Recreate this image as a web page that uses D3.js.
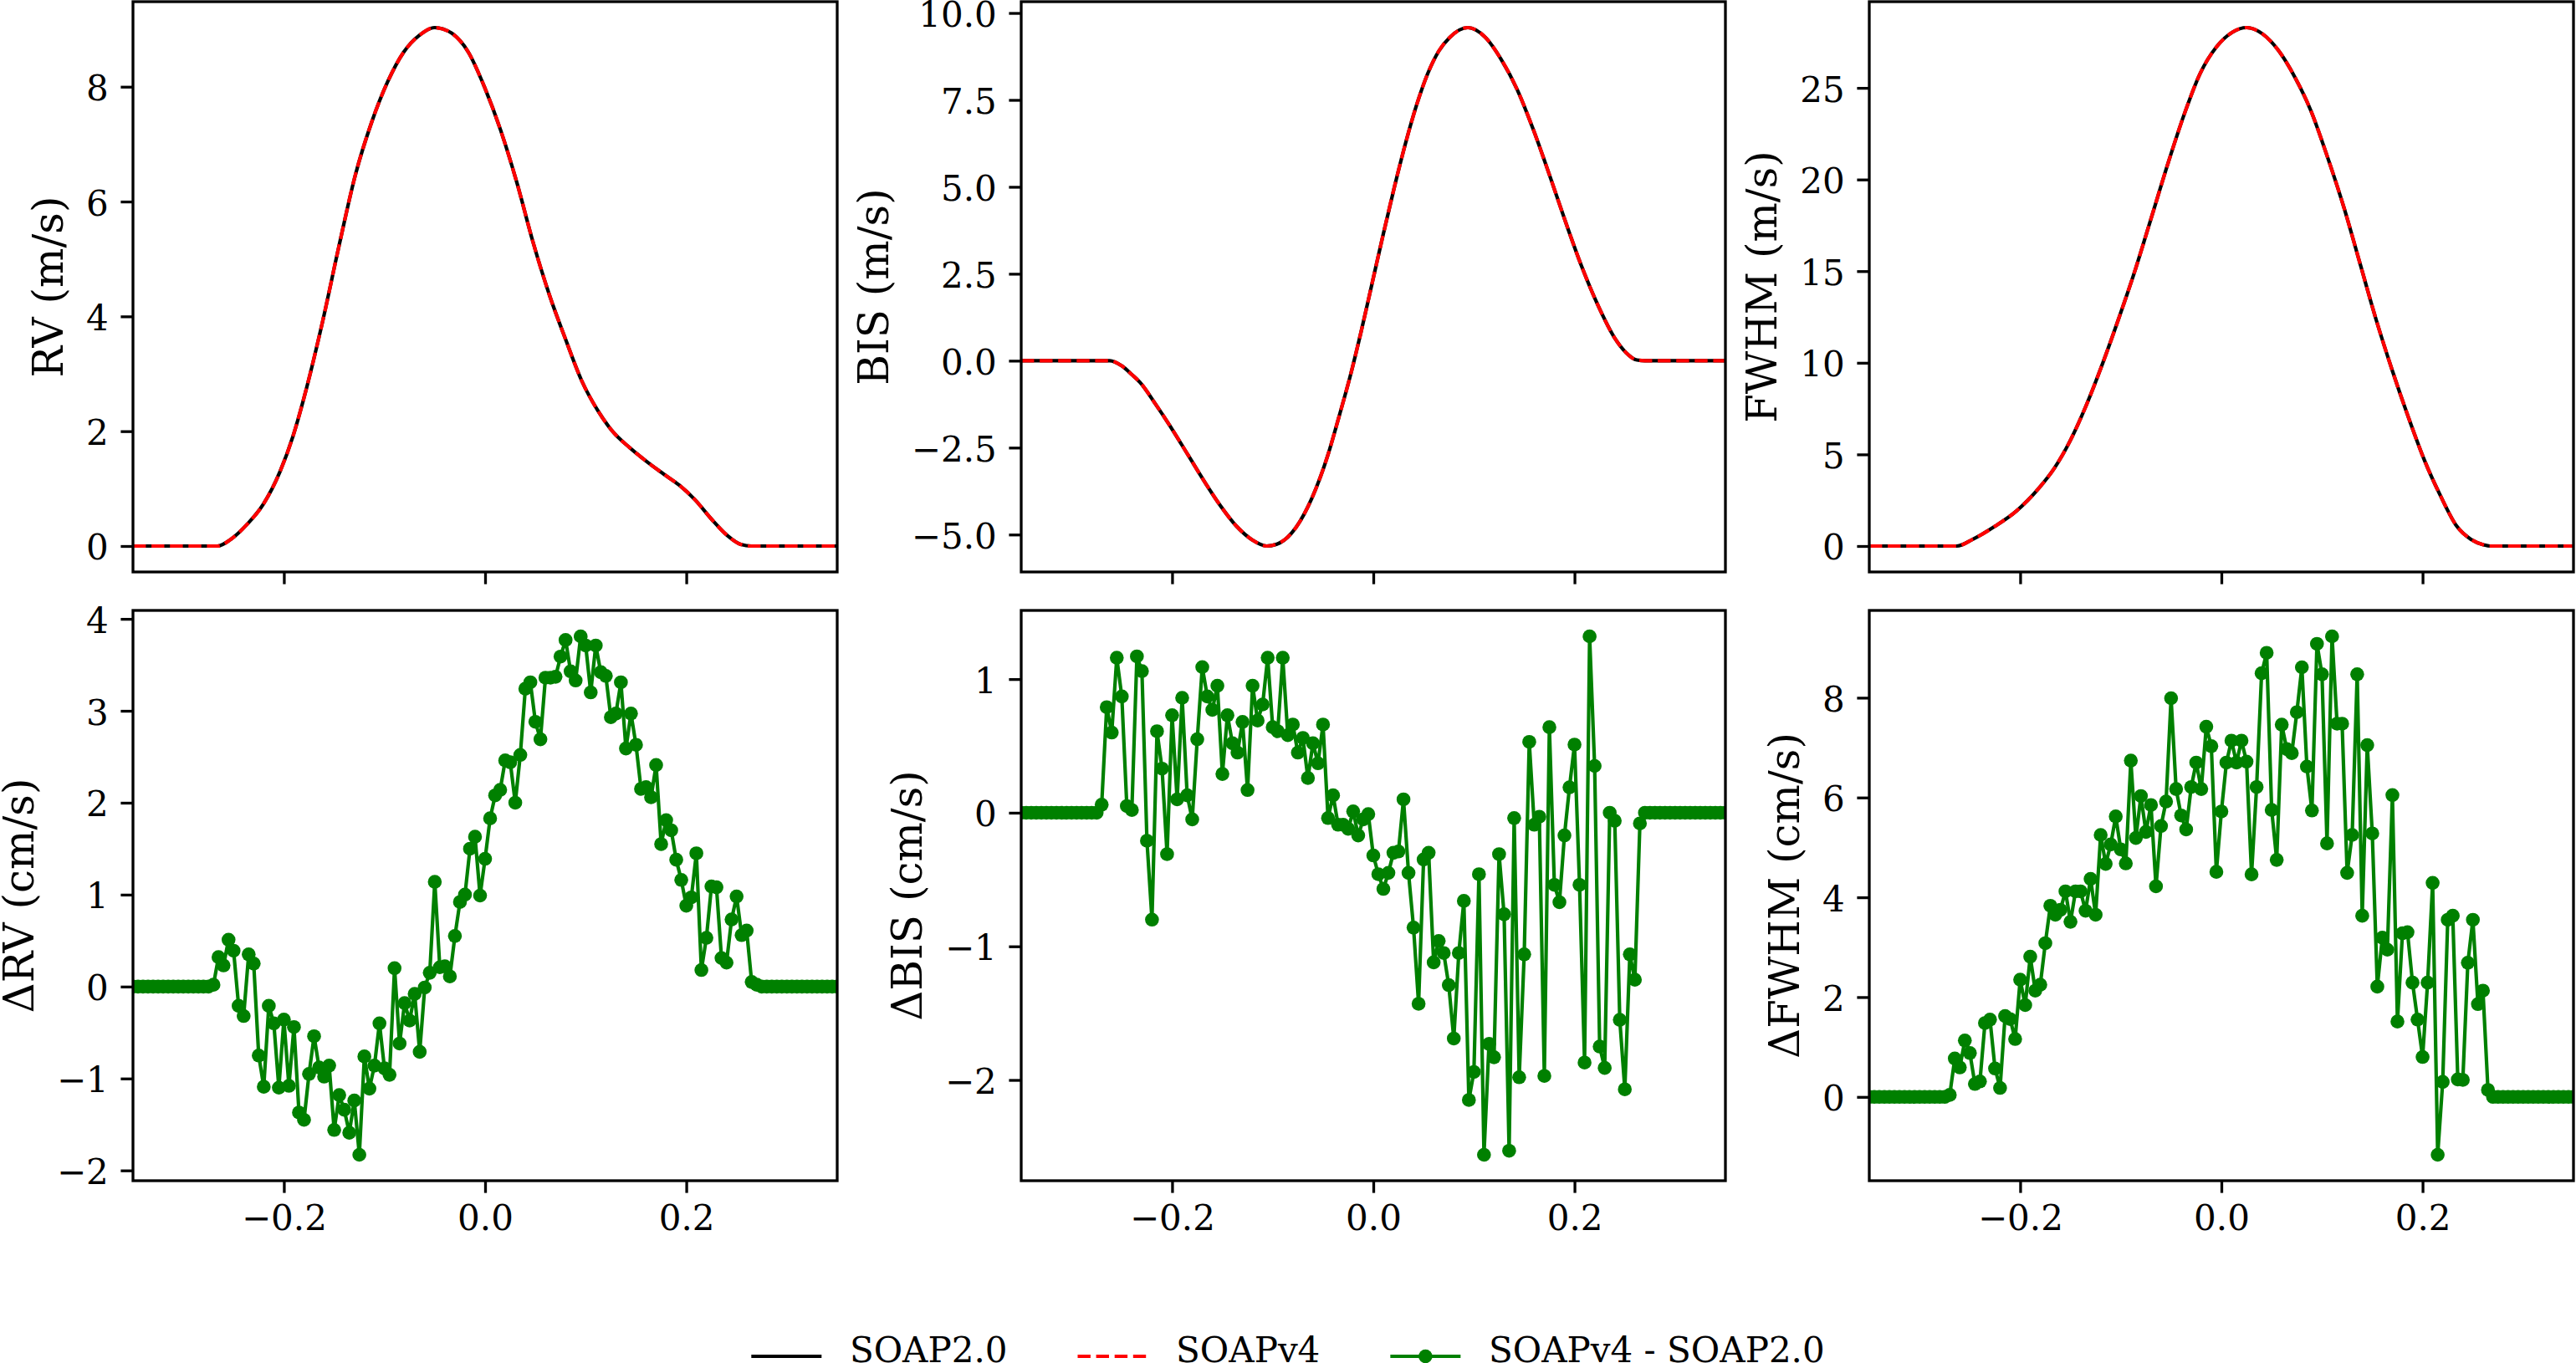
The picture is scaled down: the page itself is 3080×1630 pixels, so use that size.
<!DOCTYPE html>
<html>
<head>
<meta charset="utf-8">
<script src="https://cdn.jsdelivr.net/npm/d3@7"></script>
<style>
body { margin: 0; background: #fff; }
text { font-family: "DejaVu Serif", serif; }
</style>
</head>
<body>
<script>
// Phase grid of the difference curves (one point every 0.005)
var phase = [
  -0.35,-0.345,-0.34,-0.335,-0.33,-0.325,-0.32,-0.315,-0.31,-0.305,
  -0.3,-0.295,-0.29,-0.285,-0.28,-0.275,-0.27,-0.265,-0.26,-0.255,
  -0.25,-0.245,-0.24,-0.235,-0.23,-0.225,-0.22,-0.215,-0.21,-0.205,
  -0.2,-0.195,-0.19,-0.185,-0.18,-0.175,-0.17,-0.165,-0.16,-0.155,
  -0.15,-0.145,-0.14,-0.135,-0.13,-0.125,-0.12,-0.115,-0.11,-0.105,
  -0.1,-0.095,-0.09,-0.085,-0.08,-0.075,-0.07,-0.065,-0.06,-0.055,
  -0.05,-0.045,-0.04,-0.035,-0.03,-0.025,-0.02,-0.015,-0.01,-0.005,
  0,0.005,0.01,0.015,0.02,0.025,0.03,0.035,0.04,0.045,
  0.05,0.055,0.06,0.065,0.07,0.075,0.08,0.085,0.09,0.095,
  0.1,0.105,0.11,0.115,0.12,0.125,0.13,0.135,0.14,0.145,
  0.15,0.155,0.16,0.165,0.17,0.175,0.18,0.185,0.19,0.195,
  0.2,0.205,0.21,0.215,0.22,0.225,0.23,0.235,0.24,0.245,
  0.25,0.255,0.26,0.265,0.27,0.275,0.28,0.285,0.29,0.295,
  0.3,0.305,0.31,0.315,0.32,0.325,0.33,0.335,0.34,0.345,
  0.35
];

// SOAPv4 - SOAP2.0 differences (cm/s)
var dRV = [
  0,0,0,0,0,0,0,0,0,0,
  0,0,0,0,0,0,0.02,0.32,0.23,0.51,
  0.39,-0.21,-0.32,0.35,0.25,-0.75,-1.09,-0.21,-0.40,-1.10,
  -0.36,-1.08,-0.44,-1.37,-1.45,-0.95,-0.54,-0.88,-0.98,-0.86,
  -1.56,-1.18,-1.34,-1.59,-1.24,-1.83,-0.76,-1.11,-0.86,-0.40,
  -0.89,-0.96,0.20,-0.62,-0.18,-0.37,-0.08,-0.71,-0.01,0.15,
  1.14,0.21,0.22,0.11,0.55,0.92,1.00,1.50,1.63,0.99,
  1.39,1.83,2.08,2.14,2.46,2.44,2.00,2.52,3.24,3.31,
  2.88,2.69,3.36,3.36,3.37,3.59,3.77,3.43,3.33,3.81,
  3.71,3.20,3.71,3.42,3.38,2.93,2.97,3.31,2.59,2.97,
  2.63,2.15,2.17,2.06,2.41,1.55,1.81,1.70,1.38,1.16,
  0.88,0.97,1.45,0.18,0.53,1.09,1.08,0.31,0.26,0.73,
  0.98,0.56,0.61,0.05,0.02,0,0,0,0,0,
  0,0,0,0,0,0,0,0,0,0,
  0
];

var dBIS = [
  0,0,0,0,0,0,0,0,0,0,
  0,0,0,0,0,0,0.06,0.79,0.60,1.16,
  0.87,0.05,0.02,1.17,1.06,-0.21,-0.80,0.61,0.33,-0.31,
  0.73,0.10,0.86,0.13,-0.05,0.55,1.09,0.87,0.77,0.95,
  0.29,0.73,0.52,0.45,0.68,0.17,0.95,0.69,0.81,1.16,
  0.64,0.61,1.16,0.58,0.66,0.45,0.56,0.26,0.52,0.37,
  0.66,-0.04,0.13,-0.09,-0.09,-0.12,0.01,-0.17,-0.05,-0.01,
  -0.32,-0.46,-0.57,-0.45,-0.30,-0.29,0.10,-0.45,-0.86,-1.43,
  -0.35,-0.30,-1.12,-0.96,-1.05,-1.29,-1.69,-1.05,-0.66,-2.15,
  -1.94,-0.46,-2.56,-1.73,-1.83,-0.31,-0.76,-2.53,-0.04,-1.98,
  -1.06,0.53,-0.09,-0.03,-1.97,0.64,-0.54,-0.67,-0.17,0.19,
  0.51,-0.54,-1.87,1.32,0.35,-1.75,-1.91,0.00,-0.06,-1.55,
  -2.07,-1.06,-1.25,-0.08,0,0,0,0,0,0,
  0,0,0,0,0,0,0,0,0,0,
  0
];

var dFWHM = [
  0,0,0,0,0,0,0,0,0,0,
  0,0,0,0,0,0,0.04,0.77,0.59,1.13,
  0.88,0.26,0.31,1.48,1.55,0.57,0.18,1.62,1.56,1.16,
  2.35,1.84,2.81,2.13,2.25,3.08,3.83,3.65,3.75,4.12,
  3.51,4.12,4.12,3.73,4.37,3.65,5.25,4.67,5.06,5.62,
  4.96,4.68,6.74,5.19,6.03,5.31,5.85,4.22,5.43,5.92,
  7.99,6.17,5.64,5.36,6.21,6.70,6.17,7.42,7.03,4.51,
  5.72,6.70,7.14,6.70,7.14,6.72,4.46,6.21,8.49,8.90,
  5.75,4.75,7.46,6.97,6.89,7.71,8.61,6.62,5.74,9.08,
  8.47,5.08,9.23,7.48,7.48,4.49,5.25,8.47,3.63,7.05,
  5.28,2.21,3.19,2.95,6.05,1.51,3.28,3.30,2.29,1.55,
  0.80,2.29,4.29,-1.16,0.30,3.55,3.63,0.35,0.34,2.69,
  3.55,1.86,2.13,0.14,0,0,0,0,0,0,
  0,0,0,0,0,0,0,0,0,0,
  0
];

// Smooth curves (m/s), read at fewer points; SOAPv4 lies on SOAP2.0
// within a pixel, so the same read values serve both lines
var rvPhase = [-0.35,-0.266,-0.2525,-0.2365,-0.2204,-0.204,-0.191,-0.1775,-0.1614,-0.1453,
  -0.129,-0.113,-0.097,-0.081,-0.065,-0.050,-0.033,-0.0166,-0.0005,0.0155,
  0.0316,0.0477,0.0638,0.080,0.096,0.112,0.128,0.144,0.160,0.177,
  0.193,0.209,0.225,0.241,0.254,0.265,0.35];
var rvValues = [0,0,0.12,0.38,0.73,1.29,1.91,2.75,3.92,5.22,
  6.46,7.37,8.08,8.60,8.90,9.03,8.93,8.60,7.99,7.24,
  6.33,5.29,4.38,3.60,2.88,2.36,1.97,1.71,1.48,1.26,
  1.06,0.80,0.47,0.18,0.03,0,0];

var bisPhase = [-0.35,-0.262,-0.25,-0.24,-0.232,-0.216,-0.20,-0.184,-0.168,-0.152,
  -0.136,-0.12,-0.106,-0.093,-0.077,-0.061,-0.045,-0.034,-0.023,-0.012,
  -0.001,0.010,0.021,0.032,0.043,0.054,0.065,0.076,0.094,
  0.111,0.127,0.143,0.159,0.175,0.191,0.207,0.224,0.240,0.251,0.262,0.27,0.35];
var bisValues = [0,0,-0.15,-0.40,-0.62,-1.27,-1.97,-2.72,-3.47,-4.17,
  -4.76,-5.16,-5.33,-5.24,-4.80,-3.95,-2.70,-1.60,-0.45,0.85,
  2.25,3.65,5.0,6.25,7.35,8.25,8.9,9.3,9.58,
  9.31,8.67,7.80,6.65,5.35,4.0,2.72,1.55,0.65,0.24,0.02,0,0];

var fwhmPhase = [-0.35,-0.263,-0.247,-0.225,-0.204,-0.182,-0.166,-0.150,-0.134,-0.118,
  -0.102,-0.085,-0.069,-0.053,-0.037,-0.021,-0.005,0.011,0.025,0.041,
  0.057,0.073,0.089,0.105,0.122,0.138,0.154,0.170,0.186,0.202,
  0.218,0.234,0.248,0.261,0.267,0.35];
var fwhmValues = [0,0,0.37,1.08,1.90,3.12,4.25,5.78,7.72,9.97,
  12.42,15.18,18.03,20.89,23.55,25.80,27.23,28.04,28.29,27.94,
  27.02,25.59,23.75,21.30,18.44,15.38,12.32,9.56,7.01,4.66,
  2.72,1.08,0.37,0.06,0,0];

// Tick values
var xTicks = [-0.2, 0.0, 0.2];
var rvTicks = [0, 2, 4, 6, 8];
var bisTicks = [-5, -2.5, 0, 2.5, 5, 7.5, 10];
var fwhmTicks = [0, 5, 10, 15, 20, 25];
var dRvTicks = [-2, -1, 0, 1, 2, 3, 4];
var dBisTicks = [-2, -1, 0, 1];
var dFwhmTicks = [0, 2, 4, 6, 8];

var legendLabels = ['SOAP2.0', 'SOAPv4', 'SOAPv4 - SOAP2.0'];

// Figure layout
var width = 3080;
var height = 1630;
var panelW = 842;
var panelH = 682;
var colX = [159, 1221, 2235];
var rowY = [2, 730];
var tickLen = 14.6;
var tickPad = 14.6;
var spineW = 3.3;
var tickFont = 42;
var labelFont = 50;
var lineW = 4.2;
var green = '#008000';

var svg = d3.select('body')
    .append('svg')
    .attr('width', width)
    .attr('height', height)
    .style('display', 'block')
    .style('background', '#fff');

var panels = [
  {col: 0, row: 0, label: 'RV (m/s)', ticks: rvTicks, fmt: d3.format('d'), xs: rvPhase, ys: rvValues},
  {col: 1, row: 0, label: 'BIS (m/s)', ticks: bisTicks, fmt: d3.format('.1f'), xs: bisPhase, ys: bisValues},
  {col: 2, row: 0, label: 'FWHM (m/s)', ticks: fwhmTicks, fmt: d3.format('d'), xs: fwhmPhase, ys: fwhmValues},
  {col: 0, row: 1, label: '\u0394RV (cm/s)', ticks: dRvTicks, fmt: d3.format('d'), xs: phase, ys: dRV},
  {col: 1, row: 1, label: '\u0394BIS (cm/s)', ticks: dBisTicks, fmt: d3.format('d'), xs: phase, ys: dBIS},
  {col: 2, row: 1, label: '\u0394FWHM (cm/s)', ticks: dFwhmTicks, fmt: d3.format('d'), xs: phase, ys: dFWHM}
];

panels.forEach(function(p, k){
    var x0 = colX[p.col];
    var y0 = rowY[p.row];

    var xScale = d3.scaleLinear()
        .domain([-0.35, 0.35])
        .range([x0, x0 + panelW]);

    // matplotlib style auto limits: 5% margin on the data extent
    var ext = d3.extent(p.ys);
    var m = (ext[1] - ext[0]) * 0.05;
    var yScale = d3.scaleLinear()
        .domain([ext[0] - m, ext[1] + m])
        .range([y0 + panelH, y0]);

    svg.append('clipPath')
        .attr('id', 'clip' + k)
        .append('rect')
        .attr('x', x0).attr('y', y0)
        .attr('width', panelW).attr('height', panelH);

    var plot = svg.append('g').attr('clip-path', 'url(#clip' + k + ')');
    var pts = d3.zip(p.xs, p.ys);

    if (p.row === 0) {
        var smooth = d3.line()
            .x(function(d){ return xScale(d[0]); })
            .y(function(d){ return yScale(d[1]); })
            .curve(d3.curveMonotoneX);
        plot.append('path')
            .datum(pts)
            .attr('d', smooth)
            .attr('fill', 'none')
            .attr('stroke', 'black')
            .attr('stroke-width', lineW);
        plot.append('path')
            .datum(pts)
            .attr('d', smooth)
            .attr('fill', 'none')
            .attr('stroke', 'red')
            .attr('stroke-width', lineW)
            .attr('stroke-dasharray', '15.4,6.7');
    } else {
        var straight = d3.line()
            .x(function(d){ return xScale(d[0]); })
            .y(function(d){ return yScale(d[1]); });
        plot.append('path')
            .datum(pts)
            .attr('d', straight)
            .attr('fill', 'none')
            .attr('stroke', green)
            .attr('stroke-width', lineW)
            .attr('stroke-linejoin', 'round');
        plot.selectAll('.dot')
            .data(pts)
            .enter()
            .append('circle')
            .attr('class', 'dot')
            .attr('cx', function(d){ return xScale(d[0]); })
            .attr('cy', function(d){ return yScale(d[1]); })
            .attr('r', 8.3)
            .attr('fill', green);
    }

    // frame
    svg.append('rect')
        .attr('x', x0).attr('y', y0)
        .attr('width', panelW).attr('height', panelH)
        .attr('fill', 'none')
        .attr('stroke', 'black')
        .attr('stroke-width', spineW);

    // axes
    var xAxis = d3.axisBottom(xScale)
        .tickValues(xTicks)
        .tickSize(tickLen)
        .tickSizeOuter(0)
        .tickPadding(tickPad)
        .tickFormat(p.row === 1 ? d3.format('.1f') : function(){ return ''; });
    var xg = svg.append('g')
        .attr('transform', 'translate(0,' + (y0 + panelH) + ')')
        .call(xAxis)
        .attr('font-size', tickFont)
        .attr('font-family', 'DejaVu Serif');
    xg.select('.domain').remove();
    xg.selectAll('line').attr('stroke-width', spineW);

    var yAxis = d3.axisLeft(yScale)
        .tickValues(p.ticks)
        .tickSize(tickLen)
        .tickSizeOuter(0)
        .tickPadding(tickPad)
        .tickFormat(p.fmt);
    var yg = svg.append('g')
        .attr('transform', 'translate(' + x0 + ',0)')
        .call(yAxis)
        .attr('font-size', tickFont)
        .attr('font-family', 'DejaVu Serif');
    yg.select('.domain').remove();
    yg.selectAll('line').attr('stroke-width', spineW);
    yg.selectAll('text').attr('dy', '0.38em');

    // y label sits left of the widest tick label
    var minX = d3.min(yg.selectAll('text').nodes(), function(n){ return n.getBBox().x; });
    var lx = x0 + minX - 28;
    var ly = y0 + panelH / 2;
    svg.append('text')
        .attr('transform', 'translate(' + lx + ',' + ly + ') rotate(-90)')
        .attr('text-anchor', 'middle')
        .attr('font-size', labelFont)
        .attr('fill', 'black')
        .text(p.label);
});

// Legend along the bottom, centred on the figure
var handleLen = 84;
var handlePad = 33.6;
var colGap = 84;
var legendBase = 1629;
var legendLineY = 1622;

var legend = svg.append('g').attr('font-size', tickFont);
var texts = legendLabels.map(function(t){
    return legend.append('text').attr('y', legendBase).attr('fill', 'black').text(t);
});
var widths = texts.map(function(t){ return t.node().getComputedTextLength(); });
var total = d3.sum(widths) + legendLabels.length * (handleLen + handlePad) + (legendLabels.length - 1) * colGap;
var lx0 = width / 2 - total / 2;

texts.forEach(function(t, i){
    var hx = lx0;
    var seg = legend.append('line')
        .attr('x1', hx).attr('x2', hx + handleLen)
        .attr('y1', legendLineY).attr('y2', legendLineY)
        .attr('stroke-width', lineW);
    if (i === 0) seg.attr('stroke', 'black');
    if (i === 1) seg.attr('stroke', 'red').attr('stroke-dasharray', '15.4,6.7');
    if (i === 2) {
        seg.attr('stroke', green);
        legend.append('circle')
            .attr('cx', hx + handleLen / 2)
            .attr('cy', legendLineY)
            .attr('r', 8.3)
            .attr('fill', green);
    }
    t.attr('x', hx + handleLen + handlePad);
    lx0 = hx + handleLen + handlePad + widths[i] + colGap;
});
</script>
</body>
</html>
